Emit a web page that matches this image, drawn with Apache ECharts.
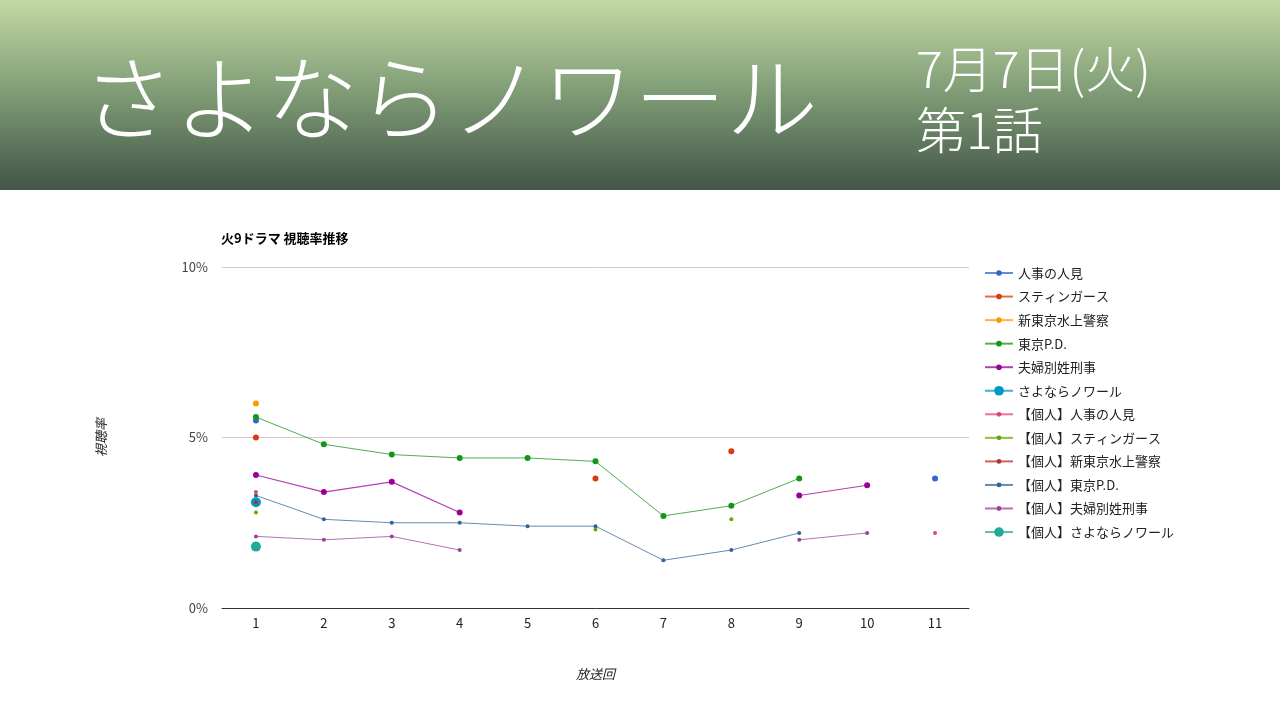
<!DOCTYPE html>
<html><head><meta charset="utf-8">
<script src="https://cdn.jsdelivr.net/npm/echarts@6/dist/echarts.min.js"></script>
<style>html,body{margin:0;padding:0;background:#fff}#c{width:1280px;height:720px}</style>
</head><body><div id="c"></div>
<script>
const categories = ['1','2','3','4','5','6','7','8','9','10','11'];
const seriesNames = ['人事の人見','スティンガース','新東京水上警察','東京P.D.','夫婦別姓刑事','さよならノワール',
  '【個人】人事の人見','【個人】スティンガース','【個人】新東京水上警察','【個人】東京P.D.','【個人】夫婦別姓刑事','【個人】さよならノワール'];
const _ = null;
const jinji      = [5.5,_,_,_,_,_,_,_,_,_,3.8];
const stingers   = [5.0,_,_,_,_,3.8,_,4.6,_,_,_];
const shintokyo  = [6.0,_,_,_,_,_,_,_,_,_,_];
const tokyoPD    = [5.6,4.8,4.5,4.4,4.4,4.3,2.7,3.0,3.8,_,_];
const fufu       = [3.9,3.4,3.7,2.8,_,_,_,_,3.3,3.6,_];
const sayonara   = [3.1,_,_,_,_,_,_,_,_,_,_];
const kJinji     = [3.4,_,_,_,_,_,_,_,_,_,2.2];
const kStingers  = [2.8,_,_,_,_,2.3,_,2.6,_,_,_];
const kShintokyo = [3.1,_,_,_,_,_,_,_,_,_,_];
const kTokyoPD   = [3.3,2.6,2.5,2.5,2.4,2.4,1.4,1.7,2.2,_,_];
const kFufu      = [2.1,2.0,2.1,1.7,_,_,_,_,2.0,2.2,_];
const kSayonara  = [1.8,_,_,_,_,_,_,_,_,_,_];
const yTicks = [0,5,10];

const allData = [jinji,stingers,shintokyo,tokyoPD,fufu,sayonara,kJinji,kStingers,kShintokyo,kTokyoPD,kFufu,kSayonara];
const colors = ['#3366cc','#dc3912','#ff9900','#109618','#990099','#0099c6','#dd4477','#66aa00','#b82e2e','#316395','#994499','#22aa99'];
const sizes = [6,6,6,6,6,10,4,4,4,4,4,10];
const widths = [1,1,1,1,1.2,2.5,1,1,1,1,1,2.5];

const series = allData.map((d,i)=>({
  name: seriesNames[i], type:'line', data:d, symbol:'circle', symbolSize:sizes[i],
  showSymbol:true, showAllSymbol:true, connectNulls:false,
  itemStyle:{color:colors[i]},
  lineStyle:{color:colors[i], width:widths[i], opacity:0.75},
  emphasis:{disabled:true}, animation:false
}));

const step = 23.55, legTop = 261, lh = 14;
function leg(idx, h){
  return {orient:'vertical', left:979, top:legTop + idx[0]*step, itemWidth:28, itemHeight:h,
    itemGap: step - lh, data: idx.map(i=>seriesNames[i]),
    textStyle:{fontSize:13, color:'#222', lineHeight:lh}, selectedMode:false};
}

const chart = echarts.init(document.getElementById('c'));
chart.setOption({
  animation:false,
  textStyle:{fontFamily:'"Noto Sans CJK JP","Noto Sans",sans-serif'},
  graphic:[
    {type:'rect', left:0, top:0, shape:{width:1280,height:190}, z:-1,
     style:{fill:new echarts.graphic.LinearGradient(0,0,0,1,[{offset:0,color:'#c3d9a4'},{offset:0.5,color:'#7d9a74'},{offset:1,color:'#435548'}])}},
    {type:'text', left:82, top:52, style:{text:'さよならノワール', fill:'#fff', font:'300 92px "Noto Sans CJK JP"'}},
    {type:'text', left:916, top:44, style:{text:'7月7日(火)', fill:'#fff', font:'300 50px "Noto Sans CJK JP"'}},
    {type:'text', left:916, top:105, style:{text:'第1話', fill:'#fff', font:'300 50px "Noto Sans CJK JP"'}}
  ],
  title:{text:'火9ドラマ 視聴率推移', left:216, top:227,
    textStyle:{fontSize:13, fontWeight:'bold', color:'#000', fontFamily:'"Noto Sans CJK JP",sans-serif'}},
  legend:[
    leg([0,1,2,3,4],7),
    leg([5],12),
    leg([6,7,8,9,10],6),
    leg([11],12)
  ],
  grid:{left:222, right:311, top:267, bottom:112, containLabel:false},
  xAxis:{type:'category', data:categories, boundaryGap:true,
    name:'放送回', nameLocation:'middle', nameGap:60,
    nameTextStyle:{fontStyle:'italic', fontSize:13, color:'#222'},
    axisLine:{lineStyle:{color:'#333', width:1}}, axisTick:{show:false},
    axisLabel:{fontSize:13, color:'#222', margin:9}},
  yAxis:{type:'value', min:yTicks[0], max:yTicks[2], interval:5,
    name:'視聴率', nameLocation:'middle', nameGap:114,
    nameTextStyle:{fontStyle:'italic', fontSize:13, color:'#222'},
    axisLine:{show:false}, axisTick:{show:false},
    axisLabel:{formatter:'{value}%', fontSize:13, color:'#444', margin:14},
    splitLine:{lineStyle:{color:'#cccccc'}}},
  series
});
</script></body></html>
